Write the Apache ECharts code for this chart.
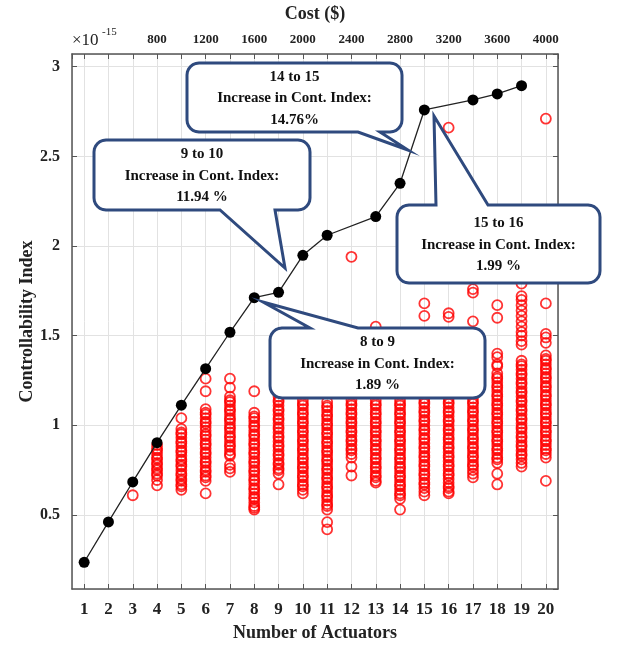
<!DOCTYPE html>
<html>
<head>
<meta charset="utf-8">
<script src="https://cdn.jsdelivr.net/npm/echarts@6/dist/echarts.min.js"></script>
<style>
  html, body { margin: 0; padding: 0; background: #fff; }
  #chart { width: 621px; height: 647px; }
</style>
</head>
<body>
<div id="chart"></div>
<script>
// 最优配置曲线 (黑线)
const lineActuators = [1, 2, 3, 4, 5, 6, 7, 8, 9, 10, 11, 13, 14, 15, 17, 18, 19];
const lineIndex = [0.236, 0.461, 0.684, 0.903, 1.112, 1.316, 1.519, 1.712, 1.742, 1.948, 2.060, 2.164, 2.350, 2.759, 2.815, 2.848, 2.894];

// 随机配置 (红圈), 每列一个数组, 单位 1e-15
const col3 = [0.61];
const col4 = [0.89, 0.87, 0.86, 0.84, 0.82, 0.81, 0.79, 0.78, 0.76, 0.75, 0.73, 0.72, 0.695, 0.665];
const col5 = [1.04, 0.98, 0.96, 0.95, 0.93, 0.91, 0.90, 0.88, 0.86, 0.85, 0.83, 0.81, 0.80, 0.78, 0.77, 0.75, 0.73, 0.72, 0.70, 0.69, 0.67, 0.66, 0.64];
const col6 = [1.26, 1.19, 1.09, 1.07, 1.06, 1.04, 1.02, 1.01, 0.99, 0.97, 0.95, 0.94, 0.92, 0.90, 0.89, 0.87, 0.85, 0.84, 0.82, 0.80, 0.79, 0.77, 0.75, 0.74, 0.72, 0.71, 0.69, 0.62];
const col7 = [1.26, 1.21, 1.16, 1.14, 1.13, 1.11, 1.09, 1.08, 1.06, 1.04, 1.03, 1.01, 0.99, 0.98, 0.96, 0.94, 0.93, 0.91, 0.89, 0.88, 0.86, 0.84, 0.83, 0.78, 0.76, 0.74];
const col8 = [1.19, 1.07, 1.05, 1.04, 1.02, 1.00, 0.99, 0.97, 0.95, 0.94, 0.92, 0.90, 0.89, 0.87, 0.85, 0.84, 0.82, 0.80, 0.79, 0.77, 0.75, 0.74, 0.72, 0.70, 0.69, 0.67, 0.65, 0.64, 0.62, 0.60, 0.59, 0.57, 0.55, 0.54, 0.53];
const col9 = [1.16, 1.14, 1.13, 1.11, 1.09, 1.08, 1.06, 1.04, 1.03, 1.01, 0.99, 0.98, 0.96, 0.94, 0.93, 0.91, 0.89, 0.88, 0.86, 0.84, 0.83, 0.81, 0.79, 0.78, 0.76, 0.75, 0.73, 0.67];
const col10 = [1.14, 1.12, 1.11, 1.09, 1.07, 1.06, 1.04, 1.02, 1.01, 0.99, 0.97, 0.96, 0.94, 0.92, 0.91, 0.89, 0.87, 0.86, 0.84, 0.82, 0.81, 0.79, 0.77, 0.76, 0.74, 0.72, 0.71, 0.69, 0.67, 0.66, 0.64, 0.62];
const col11 = [1.13, 1.11, 1.10, 1.08, 1.06, 1.05, 1.03, 1.01, 1.00, 0.98, 0.96, 0.95, 0.93, 0.91, 0.90, 0.88, 0.86, 0.85, 0.83, 0.81, 0.80, 0.78, 0.76, 0.75, 0.73, 0.71, 0.70, 0.68, 0.66, 0.65, 0.63, 0.61, 0.60, 0.58, 0.56, 0.55, 0.53, 0.46, 0.42];
const col12 = [1.94, 1.14, 1.12, 1.11, 1.09, 1.07, 1.06, 1.04, 1.02, 1.01, 0.99, 0.97, 0.96, 0.94, 0.92, 0.91, 0.89, 0.87, 0.86, 0.84, 0.82, 0.77, 0.72];
const col13 = [1.55, 1.14, 1.12, 1.11, 1.09, 1.07, 1.06, 1.04, 1.02, 1.01, 0.99, 0.97, 0.96, 0.94, 0.92, 0.91, 0.89, 0.87, 0.86, 0.84, 0.82, 0.81, 0.79, 0.77, 0.76, 0.74, 0.72, 0.71, 0.69, 0.68];
const col14 = [1.14, 1.12, 1.11, 1.09, 1.07, 1.06, 1.04, 1.02, 1.01, 0.99, 0.97, 0.96, 0.94, 0.92, 0.91, 0.89, 0.87, 0.86, 0.84, 0.82, 0.81, 0.79, 0.77, 0.76, 0.74, 0.72, 0.71, 0.69, 0.67, 0.66, 0.64, 0.62, 0.61, 0.59, 0.53];
const col15 = [1.68, 1.61, 1.15, 1.13, 1.12, 1.10, 1.08, 1.07, 1.05, 1.03, 1.02, 1.00, 0.98, 0.97, 0.95, 0.93, 0.92, 0.90, 0.88, 0.87, 0.85, 0.83, 0.82, 0.80, 0.78, 0.77, 0.75, 0.73, 0.72, 0.70, 0.68, 0.67, 0.65, 0.63, 0.61];
const col16 = [2.66, 1.625, 1.605, 1.15, 1.13, 1.12, 1.10, 1.08, 1.07, 1.05, 1.03, 1.02, 1.00, 0.98, 0.97, 0.95, 0.93, 0.92, 0.90, 0.88, 0.87, 0.85, 0.83, 0.82, 0.80, 0.78, 0.77, 0.75, 0.73, 0.72, 0.70, 0.68, 0.66, 0.65, 0.63, 0.62];
const col17 = [1.76, 1.74, 1.58, 1.15, 1.13, 1.12, 1.10, 1.08, 1.07, 1.05, 1.03, 1.02, 1.00, 0.98, 0.97, 0.95, 0.93, 0.92, 0.90, 0.88, 0.87, 0.85, 0.83, 0.82, 0.80, 0.78, 0.77, 0.75, 0.73, 0.71];
const col18 = [1.67, 1.60, 1.40, 1.38, 1.34, 1.33, 1.29, 1.27, 1.26, 1.24, 1.22, 1.21, 1.19, 1.17, 1.16, 1.14, 1.12, 1.11, 1.09, 1.07, 1.06, 1.04, 1.02, 1.01, 0.99, 0.97, 0.96, 0.94, 0.92, 0.91, 0.89, 0.87, 0.86, 0.84, 0.82, 0.81, 0.79, 0.73, 0.67];
const col19 = [1.79, 1.72, 1.70, 1.67, 1.64, 1.61, 1.58, 1.55, 1.52, 1.50, 1.47, 1.45, 1.36, 1.34, 1.33, 1.31, 1.29, 1.28, 1.26, 1.24, 1.23, 1.21, 1.19, 1.18, 1.16, 1.14, 1.13, 1.11, 1.09, 1.08, 1.06, 1.04, 1.03, 1.01, 0.99, 0.98, 0.96, 0.94, 0.93, 0.91, 0.89, 0.88, 0.86, 0.84, 0.83, 0.81, 0.79, 0.77];
const col20 = [2.71, 1.68, 1.51, 1.49, 1.46, 1.39, 1.37, 1.36, 1.34, 1.32, 1.31, 1.29, 1.27, 1.26, 1.24, 1.22, 1.21, 1.19, 1.17, 1.16, 1.14, 1.12, 1.11, 1.09, 1.07, 1.06, 1.04, 1.02, 1.01, 0.99, 0.97, 0.96, 0.94, 0.92, 0.91, 0.89, 0.87, 0.86, 0.84, 0.82, 0.69];

const scatterColumns = [
    [3, col3], [4, col4], [5, col5], [6, col6], [7, col7], [8, col8], [9, col9], [10, col10],
    [11, col11], [12, col12], [13, col13], [14, col14], [15, col15], [16, col16],
    [17, col17], [18, col18], [19, col19], [20, col20]
];

const FONT = '"Liberation Serif", "Times New Roman", serif';
const NAVY = '#2f4a7e';

// 标注框 (像素坐标)
const callouts = [
    { text: '9 to 10\nIncrease in Cont. Index:\n11.94 %', l: 94, t: 140, r: 310, b: 210, side: 'bottom', b1: 220, b2: 275, ax: 285, ay: 268 },
    { text: '14 to 15\nIncrease in Cont. Index:\n14.76%', l: 187, t: 63, r: 402, b: 132, side: 'bottom', b1: 358, b2: 380, ax: 408, ay: 150 },
    { text: '15 to 16\nIncrease in Cont. Index:\n1.99 %', l: 397, t: 205, r: 600, b: 283, side: 'top', b1: 436, b2: 488, ax: 434, ay: 116 },
    { text: '8 to 9\nIncrease in Cont. Index:\n1.89 %', l: 270, t: 328, r: 485, b: 398, side: 'top', b1: 310, b2: 358, ax: 263, ay: 302 }
];

// 圆角 + 尖角的轮廓点
function cornerArc(cx, cy, k, a0) {
    const pts = [];
    for (let i = 0; i <= 6; i++) {
        const a = a0 + (Math.PI / 2) * (i / 6);
        pts.push([cx + k * Math.cos(a), cy + k * Math.sin(a)]);
    }
    return pts;
}

function calloutPoints(c) {
    const k = 12;
    const { l, t, r, b } = c;
    let pts = [];
    pts = pts.concat(cornerArc(l + k, t + k, k, Math.PI));
    if (c.side === 'top') pts.push([c.b1, t], [c.ax, c.ay], [c.b2, t]);
    pts = pts.concat(cornerArc(r - k, t + k, k, -Math.PI / 2));
    pts = pts.concat(cornerArc(r - k, b - k, k, 0));
    if (c.side === 'bottom') pts.push([c.b2, b], [c.ax, c.ay], [c.b1, b]);
    pts = pts.concat(cornerArc(l + k, b - k, k, Math.PI / 2));
    return pts;
}

const scatterData = [];
scatterColumns.forEach(([x, vals]) => {
    vals.forEach((v) => scatterData.push([x, v]));
});

const graphics = [];
callouts.forEach((c) => {
    graphics.push({
        type: 'polygon',
        z: 100,
        shape: { points: calloutPoints(c) },
        style: { fill: '#fff', stroke: NAVY, lineWidth: 3, lineJoin: 'miter' }
    });
    graphics.push({
        type: 'text',
        z: 101,
        x: (c.l + c.r) / 2,
        y: (c.t + c.b) / 2 + 1,
        style: {
            text: c.text,
            align: 'center',
            verticalAlign: 'middle',
            font: `bold 15px ${FONT}`,
            lineHeight: 21.5,
            fill: '#111'
        }
    });
});
graphics.push({ type: 'text', x: 72, y: 32, style: { text: '×10', font: `17px ${FONT}`, fill: '#222' } });
graphics.push({ type: 'text', x: 102, y: 27, style: { text: '-15', font: `11px ${FONT}`, fill: '#222' } });

const chart = echarts.init(document.getElementById('chart'));

const axisLineStyle = { color: '#555', width: 1.5 };
const gridLine = { show: true, lineStyle: { color: '#e2e2e2', width: 1 } };

const option = {
    animation: false,
    grid: { left: 72, right: 63, top: 54, bottom: 58, containLabel: false, outerBoundsMode: 'none' },
    xAxis: [
        {
            type: 'value',
            position: 'bottom',
            min: 0.5,
            max: 20.5,
            splitNumber: 20,
            name: 'Number of Actuators',
            nameLocation: 'middle',
            nameGap: 35,
            nameMoveOverlap: false,
            nameTextStyle: { fontFamily: FONT, fontWeight: 'bold', fontSize: 18, color: '#222' },
            axisLine: { lineStyle: axisLineStyle },
            axisTick: { inside: true, length: 5, lineStyle: { color: '#555' } },
            axisLabel: {
                showMinLabel: false,
                showMaxLabel: false,
                margin: 12,
                fontFamily: FONT,
                fontWeight: 'bold',
                fontSize: 17,
                color: '#222',
                formatter: (v) => (Number.isInteger(v) ? String(v) : '')
            },
            splitLine: gridLine
        },
        {
            type: 'value',
            position: 'top',
            min: 100,
            max: 4100,
            splitNumber: 20,
            name: 'Cost ($)',
            nameLocation: 'middle',
            nameGap: 31,
            nameMoveOverlap: false,
            nameTextStyle: { fontFamily: FONT, fontWeight: 'bold', fontSize: 18, color: '#222' },
            axisLine: { lineStyle: axisLineStyle },
            axisTick: { inside: true, length: 5, lineStyle: { color: '#555' } },
            axisLabel: {
                margin: 8,
                fontFamily: FONT,
                fontWeight: 'bold',
                fontSize: 13,
                color: '#222',
                formatter: (v) => (v % 400 === 0 && v >= 800 ? String(v) : '')
            },
            splitLine: { show: false }
        }
    ],
    yAxis: [
        {
            type: 'value',
            position: 'left',
            min: 0.087,
            max: 3.071,
            name: 'Controllability Index',
            nameLocation: 'middle',
            nameGap: 36,
            nameMoveOverlap: false,
            nameTextStyle: { fontFamily: FONT, fontWeight: 'bold', fontSize: 18, color: '#222' },
            axisLine: { show: true, lineStyle: axisLineStyle },
            axisTick: { show: true, inside: true, length: 5, lineStyle: { color: '#555' } },
            axisLabel: {
                showMinLabel: false,
                showMaxLabel: false,
                margin: 12,
                fontFamily: FONT,
                fontWeight: 'bold',
                fontSize: 16,
                color: '#222'
            },
            splitLine: gridLine
        },
        {
            type: 'value',
            position: 'right',
            min: 0.087,
            max: 3.071,
            axisLine: { show: true, lineStyle: axisLineStyle },
            axisTick: { show: true, inside: true, length: 5, lineStyle: { color: '#555' } },
            axisLabel: { show: false },
            splitLine: { show: false }
        }
    ],
    series: [
        {
            type: 'scatter',
            xAxisIndex: 0,
            yAxisIndex: 0,
            data: scatterData,
            symbol: 'circle',
            symbolSize: 10,
            itemStyle: { color: 'rgba(0,0,0,0)', borderColor: '#ff0000', borderWidth: 1.8 },
            z: 2
        },
        {
            type: 'line',
            xAxisIndex: 0,
            yAxisIndex: 0,
            data: lineActuators.map((x, i) => [x, lineIndex[i]]),
            symbol: 'circle',
            symbolSize: 11,
            showSymbol: true,
            lineStyle: { color: '#222', width: 1.3 },
            itemStyle: { color: '#000' },
            z: 3
        }
    ],
    graphic: graphics
};

chart.setOption(option);
</script>
</body>
</html>
